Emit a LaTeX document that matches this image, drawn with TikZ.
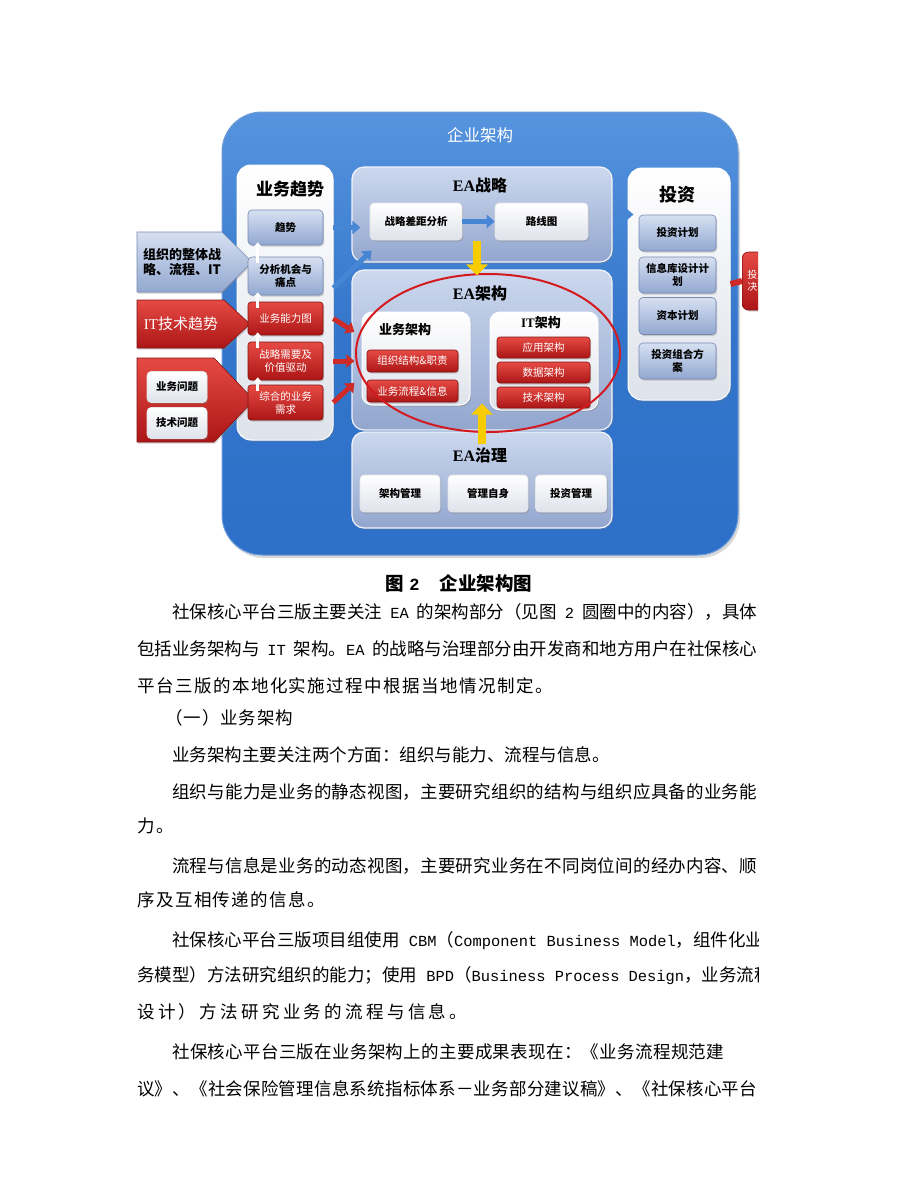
\documentclass[tikz,border=0pt]{standalone}
\usepackage{fontspec}
\setmainfont{Liberation Serif}
\newfontfamily\cjk{Noto Sans CJK SC}
\newfontfamily\mono{Liberation Mono}
\usetikzlibrary{shadows,arrows.meta,shapes.geometric}

\newcount\mycnt
\newXeTeXintercharclass\cjkcls
\mycnt="3000
\loop\XeTeXcharclass\mycnt=\cjkcls\relax\advance\mycnt by 1\relax\ifnum\mycnt<"A000\repeat
\mycnt="FF00
\loop\XeTeXcharclass\mycnt=\cjkcls\relax\advance\mycnt by 1\relax\ifnum\mycnt<"FFF0\repeat
\XeTeXinterchartoks\cjkcls\cjkcls={\hskip0pt plus 1pt\relax}

\newcommand\bodyfont{\cjk\fontsize{17.5}{20}\selectfont}
\newcommand\lat[1]{{\mono\fontsize{15.4}{15}\selectfont #1}}
\newcommand\jl[2]{\hbox to #1{\XeTeXinterchartokenstate=1 #2}}

\definecolor{eablue}{RGB}{46,112,200}
\definecolor{eabluetop}{RGB}{86,148,222}
\definecolor{bgtop}{RGB}{214,224,242}
\definecolor{bgbot}{RGB}{146,168,208}
\definecolor{bgline}{RGB}{118,138,178}
\definecolor{pantop}{RGB}{204,216,238}
\definecolor{panbot}{RGB}{146,166,206}
\definecolor{rtop}{RGB}{230,74,68}
\definecolor{rbot}{RGB}{172,22,22}
\definecolor{rline}{RGB}{130,18,18}
\definecolor{wbot}{RGB}{222,226,234}
\definecolor{arrblue}{RGB}{70,134,212}
\definecolor{arrred}{RGB}{205,42,40}
\definecolor{ylw}{RGB}{247,204,0}
\definecolor{ellred}{RGB}{212,26,30}

\tikzset{
  shd/.style={drop shadow={opacity=0.35,shadow xshift=1.2pt,shadow yshift=-1.5pt}},
  dtxt/.style={font=\cjk\bfseries\fontsize{10.5}{13}\selectfont, align=center},
  rtxt/.style={font=\cjk\fontsize{10.5}{13}\selectfont, align=center},
  bgbox/.style={rounded corners=4pt, draw=bgline, line width=0.6pt, top color=bgtop, bottom color=bgbot, inner sep=0pt, text=black, dtxt, shd},
  wbox/.style={rounded corners=4pt, draw=white!80!gray, line width=0.6pt, top color=white, bottom color=wbot, inner sep=0pt, text=black, dtxt, shd},
  rbox/.style={rounded corners=3pt, draw=rline, line width=0.6pt, top color=rtop, bottom color=rbot, inner sep=0pt, text=white, rtxt, shd},
  gpanel/.style={rounded corners=12pt, draw=white!70!pantop, line width=1.2pt, top color=pantop, bottom color=panbot, inner sep=0pt, shd},
  wpanel/.style={rounded corners=14pt, draw=white, line width=1pt, top color=white, bottom color=wbot, inner sep=0pt, shd},
  ttl/.style={font=\cjk\bfseries\fontsize{16}{18}\selectfont, text=black},
  barrow/.style={draw=arrblue, line width=5pt, -{Triangle[length=8pt,width=13pt]}},
  rarrow/.style={draw=arrred, line width=5pt, -{Triangle[length=8pt,width=13pt]}},
  yarrow/.style={draw=ylw, line width=8pt, -{Triangle[length=11pt,width=21pt]}},
  uparrow/.style={draw=white, line width=3pt, -{Triangle[length=5pt,width=8pt]}},
  bl/.style={anchor=base west, inner sep=0pt, font=\bodyfont},
}

\begin{document}
\begin{tikzpicture}[x=1pt,y=-1pt]
\useasboundingbox (0,0) rectangle (920,1191);
\fill[white] (0,0) rectangle (920,1191);
\begin{scope}
\clip (0,0) rectangle (758,1191);

% big enterprise box
\node[rounded corners=40pt, minimum width=516pt, minimum height=443pt, top color=eabluetop, bottom color=eablue, middle color=eablue!85!eabluetop, draw=eablue!70!white, line width=1pt, drop shadow={opacity=0.3,shadow xshift=2pt,shadow yshift=-3pt}] (ent) at (480,333.5) {};
\node[font=\cjk\fontsize{16.5}{18}\selectfont, text=white] (enttitle) at (480,135) {企业架构};

% left panel
\node[wpanel, minimum width=96pt, minimum height=275pt] (lp) at (285,302.5) {};
\node[ttl, font=\cjk\bfseries\fontsize{17}{18}\selectfont] (lptitle) at (290,189) {业务趋势};

% left incoming arrows
\path[top color=bgtop, bottom color=bgbot, draw=bgline, line width=0.6pt, shd] (137,232) -- (222,232) -- (252,262) -- (222,292) -- (137,292) -- cycle;
\node[font=\cjk\bfseries\fontsize{13}{15.5}\selectfont, align=center] (a1) at (182,262) {组织的整体战\\略、流程、IT};
\path[top color=rtop, bottom color=rbot, draw=rline, line width=0.6pt, shd] (137,300) -- (224,300) -- (250,324) -- (224,348) -- (137,348) -- cycle;
\node[font=\cjk\fontsize{15}{16}\selectfont, text=white] (a2) at (181,324) {{\rmfamily IT}技术趋势};
\path[top color=rtop, bottom color=rbot, draw=rline, line width=0.6pt, shd] (137,358) -- (214,358) -- (254,400) -- (214,442) -- (137,442) -- cycle;
\node[wbox, minimum width=60pt, minimum height=31pt] (q1) at (177,387) {业务问题};
\node[wbox, minimum width=60pt, minimum height=31pt] (q2) at (177,423) {技术问题};

% left panel boxes
\node[bgbox, minimum width=75pt, minimum height=35pt] (b1) at (285.5,227.5) {趋势};
\node[bgbox, minimum width=75pt, minimum height=38pt] (b2) at (285.5,276) {分析机会与\\痛点};
\node[rbox, minimum width=75pt, minimum height=33pt] (r1) at (285.5,318.5) {业务能力图};
\node[rbox, minimum width=75pt, minimum height=38pt] (r2) at (285.5,361) {战略需要及\\价值驱动};
\node[rbox, minimum width=75pt, minimum height=35pt] (r3) at (285.5,402.5) {综合的业务\\需求};
\draw[uparrow] ([xshift=10pt,yshift=-6pt]b2.north west) -- ([xshift=10pt,yshift=3pt]b1.south west);
\draw[uparrow] ([xshift=10pt,yshift=-6pt]r1.north west) -- ([xshift=10pt,yshift=3pt]b2.south west);
\draw[uparrow] ([xshift=10pt,yshift=-6pt]r2.north west) -- ([xshift=10pt,yshift=3pt]r1.south west);
\draw[uparrow] ([xshift=10pt,yshift=-6pt]r3.north west) -- ([xshift=10pt,yshift=3pt]r2.south west);

% EA strategy
\node[gpanel, minimum width=260pt, minimum height=95pt] (s) at (482,214.5) {};
\node[ttl] (stitle) at (480,185) {{\rmfamily EA}战略};
\node[wbox, minimum width=92pt, minimum height=37pt] (s1) at (416,221.5) {战略差距分析};
\node[wbox, minimum width=93pt, minimum height=37pt] (s2) at (541.5,221.5) {路线图};

% EA architecture
\node[gpanel, minimum width=260pt, minimum height=160pt] (arch) at (482,350) {};
\node[ttl] (archtitle) at (480,293) {{\rmfamily EA}架构};
\node[wpanel, rounded corners=10pt, minimum width=108pt, minimum height=93pt] (ba) at (416,358.5) {};
\node[ttl, font=\cjk\bfseries\fontsize{13}{15}\selectfont] (batitle) at (405,330) {业务架构};
\node[rbox, minimum width=91pt, minimum height=22pt] (ba1) at (412.5,361) {组织结构\&职责};
\node[rbox, minimum width=91pt, minimum height=22pt] (ba2) at (412.5,391) {业务流程\&信息};
\node[wpanel, rounded corners=10pt, minimum width=108pt, minimum height=98pt] (it) at (544,361) {};
\node[ttl, font=\cjk\bfseries\fontsize{13}{15}\selectfont] (ittitle) at (541,323) {{\rmfamily IT}架构};
\node[rbox, minimum width=93pt, minimum height=21pt] (it1) at (543.5,347.5) {应用架构};
\node[rbox, minimum width=93pt, minimum height=21pt] (it2) at (543.5,372.5) {数据架构};
\node[rbox, minimum width=93pt, minimum height=21pt] (it3) at (543.5,397.5) {技术架构};

% EA governance
\node[gpanel, minimum width=260pt, minimum height=96pt] (gov) at (482,480) {};
\node[ttl] (govtitle) at (480,455) {{\rmfamily EA}治理};
\node[wbox, minimum width=80pt, minimum height=37pt] (g1) at (400,493.5) {架构管理};
\node[wbox, minimum width=80pt, minimum height=37pt] (g2) at (488,493.5) {管理自身};
\node[wbox, minimum width=71pt, minimum height=37pt] (g3) at (571,493.5) {投资管理};

% investment panel
\node[wpanel, minimum width=102pt, minimum height=232pt] (inv) at (679,284) {};
\node[ttl, font=\cjk\bfseries\fontsize{18}{20}\selectfont] (invtitle) at (677,195) {投资};
\node[bgbox, minimum width=77pt, minimum height=36pt] (i1) at (677.5,233) {投资计划};
\node[bgbox, minimum width=77pt, minimum height=36pt] (i2) at (677.5,275) {信息库设计计\\划};
\node[bgbox, minimum width=77pt, minimum height=37pt] (i3) at (677.5,316) {资本计划};
\node[bgbox, minimum width=77pt, minimum height=36pt] (i4) at (677.5,361) {投资组合方\\案};

% outgoing red box (cut at the page edge)
\node[rbox, rounded corners=6pt, minimum width=60pt, minimum height=58pt, anchor=west, align=left, font=\cjk\fontsize{10}{12}\selectfont, text width=50pt, inner xsep=4pt] (out) at (742,281) {投资\\决策};

% connectors
\draw[barrow] ([xshift=10pt]b1.east) -- ([xshift=9pt]s.west |- b1.east);
\draw[barrow] ([xshift=10pt,yshift=-12pt]b2.east) -- ([xshift=20pt,yshift=12pt]s.south west);
\draw[barrow] (s1.east) -- (s2.west);
\draw[barrow] ([yshift=0pt]s.east) -- ([xshift=6pt]inv.west |- s.east);
\draw[rarrow] ([xshift=10pt]r1.east) -- ([xshift=3pt,yshift=18pt]arch.west);
\draw[rarrow] ([xshift=10pt]r2.east) -- ([xshift=3pt]arch.west |- r2.east);
\draw[rarrow] ([xshift=10pt]r3.east) -- ([xshift=3pt,yshift=-33pt]arch.west);
\draw[arrred, line width=6pt] (inv.east) -- (out.west);

% red circle
\node[draw=ellred, line width=2pt, ellipse, minimum width=264pt, minimum height=158pt, inner sep=0pt] (circ) at (488,353) {};

% yellow arrows
\draw[yarrow] ([xshift=-5pt,yshift=22pt]s.south) -- ([xshift=-5pt,yshift=-6pt]arch.north);
\draw[yarrow] ([yshift=-13pt]gov.north) -- ([yshift=27pt]arch.south);

% caption
\node[font=\cjk\bfseries\fontsize{18.5}{20}\selectfont, inner sep=0pt] (cap) at (459,583) {图\hspace{5pt}\lat{\fontsize{17}{17}\selectfont\textbf{2}}\hspace{20pt}企业架构图};

% body text
\node[bl] (t1) at (172,618.5) {\jl{585pt}{社保核心平台三版主要关注\lat{ EA }的架构部分（见图\lat{ 2 }圆圈中的内容），具体}};
\node[bl] (t2) at (137,655.5) {\jl{620pt}{包括业务架构与\lat{ IT }架构。\lat{EA }的战略与治理部分由开发商和地方用户在社保核心}};
\node[bl] (t3) at (137,692.5) {\jl{416pt}{平台三版的本地化实施过程中根据当地情况制定。}};
\node[bl] (t4) at (165,724.5) {\jl{128pt}{（一）业务架构}};
\node[bl] (t5) at (172,761.5) {\jl{420pt}{业务架构主要关注两个方面：组织与能力、流程与信息。}};
\node[bl] (t6) at (172,798.5) {\jl{585pt}{组织与能力是业务的静态视图，主要研究组织的结构与组织应具备的业务能}};
\node[bl] (t7) at (137,832.5) {\jl{37pt}{力。}};
\node[bl] (t8) at (172,872.5) {\jl{585pt}{流程与信息是业务的动态视图，主要研究业务在不同岗位间的经办内容、顺}};
\node[bl] (t9) at (137,906.5) {\jl{188pt}{序及互相传递的信息。}};
\node[bl] (t10) at (172,946.5) {社保核心平台三版项目组使用\lat{ CBM}（\lat{Component Business Model}，组件化业};
\node[bl] (t11) at (137,981.5) {务模型）方法研究组织的能力；使用\lat{ BPD}（\lat{Business Process Design}，业务流程};
\node[bl] (t12) at (137,1018.5) {\jl{330pt}{设计）方法研究业务的流程与信息。}};
\node[bl] (t13) at (172,1058.5) {\jl{552pt}{社保核心平台三版在业务架构上的主要成果表现在：《业务流程规范建}};
\node[bl] (t14) at (137,1095.5) {\jl{620pt}{议》、《社会保险管理信息系统指标体系－业务部分建议稿》、《社保核心平台}};
\end{scope}
\end{tikzpicture}
\end{document}
